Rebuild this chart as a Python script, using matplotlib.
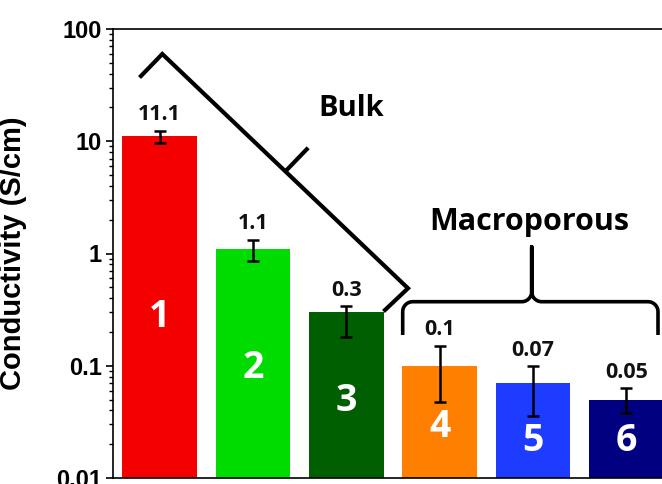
import numpy as np
import matplotlib
matplotlib.use('Agg')
from matplotlib import pyplot

# Samples and measured conductivities (S/cm)
samples = ['1', '2', '3', '4', '5', '6']
conductivity = [11.1, 1.1, 0.3, 0.1, 0.07, 0.05]
value_labels = ['11.1', '1.1', '0.3', '0.1', '0.07', '0.05']
err_low = [9.6, 0.85, 0.18, 0.048, 0.036, 0.038]
err_high = [12.4, 1.32, 0.34, 0.15, 0.099, 0.063]
colors = ['#F50000', '#00DC00', '#005F00', '#FF8000', '#1E3CFF', '#000080']
number_heights = [0.359, 0.245, 0.171, 0.113, 0.082, 0.083]

# axes box in figure pixels
AX_LEFT, AX_RIGHT, AX_TOP, AX_BOTTOM = 113, 673, 29, 478


def to_axes(px, py):
    return (px - AX_LEFT) / (AX_RIGHT - AX_LEFT), (AX_BOTTOM - py) / (AX_BOTTOM - AX_TOP)


def arc(cx, cy, rx, ry, a0, a1, n=16):
    t = np.linspace(a0, a1, n)
    return cx + rx * np.cos(t), cy + ry * np.sin(t)


def brace(ax, x_left, x_mid, x_right, y_bar, y_end, y_tip, r=10):
    # curly brace drawn in pixel units, converted to axes fraction
    xs, ys = [x_left], [y_end]
    ax_, ay_ = arc(x_left + r, y_bar + r, r, r, np.pi, 1.5 * np.pi)
    xs += list(ax_); ys += list(ay_)
    ax_, ay_ = arc(x_mid - r, y_bar - r, r, r, 0.5 * np.pi, 0)
    xs += list(ax_); ys += list(ay_)
    xs += [x_mid]; ys += [y_tip]
    xs += [x_mid]; ys += [y_bar - r]
    ax_, ay_ = arc(x_mid + r, y_bar - r, r, r, np.pi, 0.5 * np.pi)
    xs += list(ax_); ys += list(ay_)
    ax_, ay_ = arc(x_right - r, y_bar + r, r, r, 1.5 * np.pi, 2 * np.pi)
    xs += list(ax_); ys += list(ay_)
    xs += [x_right]; ys += [y_end]
    fx, fy = to_axes(np.array(xs), np.array(ys))
    ax.plot(fx, fy, color='black', lw=2.6, transform=ax.transAxes, clip_on=False,
            solid_capstyle='butt', zorder=5)


def main():
    positions = np.arange(1, len(samples) + 1)
    values = np.array(conductivity)
    yerr = [values - np.array(err_low), np.array(err_high) - values]

    fig = pyplot.figure(figsize=(6.62, 4.84), dpi=100)
    ax = fig.add_axes([AX_LEFT / 662, (484 - AX_BOTTOM) / 484,
                       (AX_RIGHT - AX_LEFT) / 662, (AX_BOTTOM - AX_TOP) / 484])

    ax.bar(positions, values, width=0.8, color=colors, zorder=2)
    ax.errorbar(positions, values, yerr=yerr, fmt='none', ecolor='black',
                elinewidth=1.8, capsize=4, capthick=1.8, zorder=3)

    for x, top, label in zip(positions, err_high, value_labels):
        ax.annotate(label, (x, top), xytext=(0, 4), textcoords='offset points',
                    ha='center', va='bottom', fontsize=15.5, fontfamily='Open Sans',
                    fontweight='bold', color='#111111')

    for x, h, name in zip(positions, number_heights, samples):
        ax.text(x, h, name, transform=ax.get_xaxis_transform(), ha='center', va='center',
                fontsize=27, fontfamily='Open Sans', fontweight='bold', color='white', zorder=4)

    ax.set_yscale('log')
    ax.set_ylim(0.01, 100)
    ax.set_xlim(0.5, 6.5)
    ax.set_xticks([])
    ax.set_yticks([0.01, 0.1, 1, 10, 100])
    ax.set_yticklabels(['0.01', '0.1', '1', '10', '100'])
    ax.tick_params(axis='y', which='major', direction='out', length=5, width=1.2,
                   labelsize=17, pad=3)
    ax.tick_params(axis='y', which='minor', direction='out', length=3, width=1)
    for lab in ax.get_yticklabels():
        lab.set_fontweight('bold')
        lab.set_fontfamily('Liberation Sans')
    for side in ['left', 'top', 'bottom', 'right']:
        ax.spines[side].set_linewidth(1.2)

    ax.set_ylabel('Conductivity (S/cm)', fontsize=21, fontweight='bold', fontfamily='Liberation Sans')
    ax.yaxis.set_label_coords(to_axes(27, 0)[0], 0.5)

    # "Bulk" bracket along the first three bars
    bx, by = to_axes(np.array([141, 162.3, 408, 385]), np.array([76, 54, 288.3, 310]))
    ax.plot(bx, by, color='black', lw=3, transform=ax.transAxes, clip_on=False,
            solid_joinstyle='miter', zorder=5)
    tx, ty = to_axes(np.array([286.7, 306.7]), np.array([170, 149.3]))
    ax.plot(tx, ty, color='black', lw=3, transform=ax.transAxes, clip_on=False, zorder=5)
    ax.text(*to_axes(351, 108), 'Bulk', transform=ax.transAxes, ha='center', va='center',
            fontsize=21, fontfamily='Open Sans', fontweight='bold')

    # curly brace over the macroporous samples
    brace(ax, 402.7, 531.7, 658, 301.7, 335, 246.7)
    ax.text(*to_axes(529, 221.7), 'Macroporous', transform=ax.transAxes,
            ha='center', va='center', fontsize=22, fontfamily='Open Sans', fontweight='bold')

    pyplot.savefig('out.png', dpi=100)


if __name__ == '__main__':
    main()
